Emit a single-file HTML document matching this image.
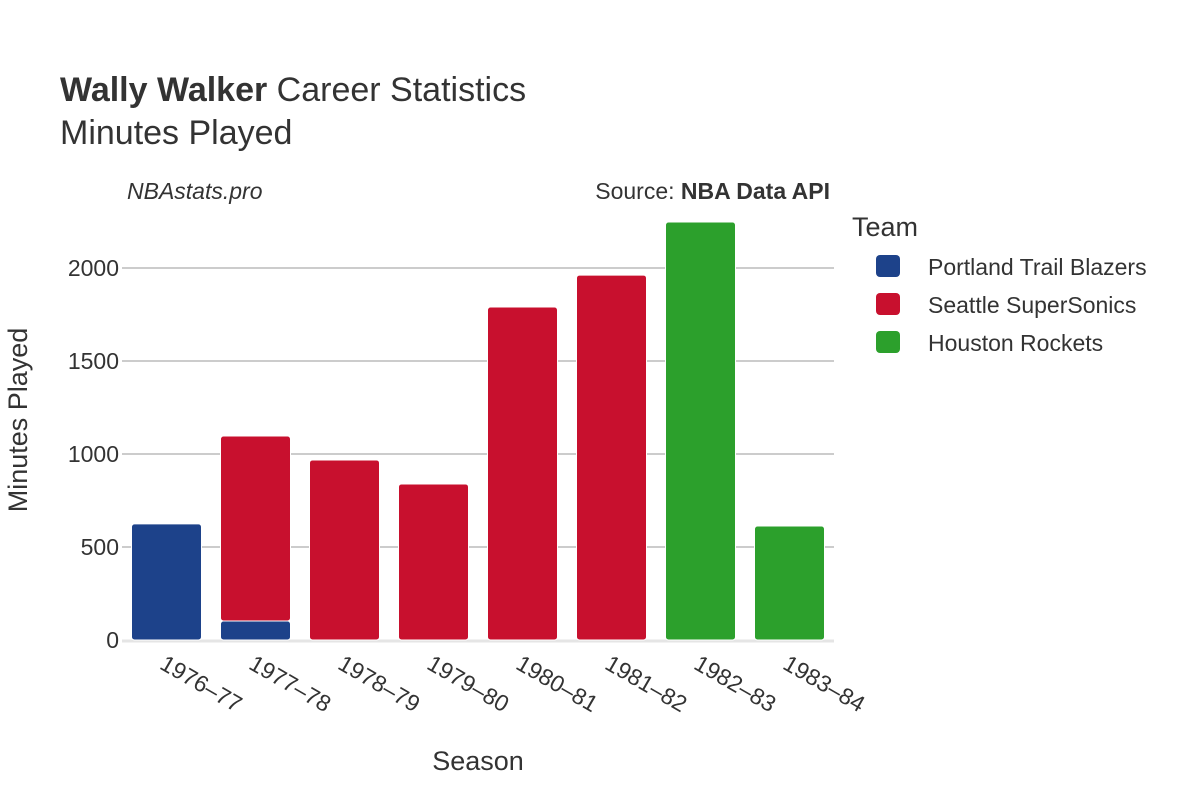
<!DOCTYPE html>
<html><head><meta charset="utf-8"><style>
body{margin:0;background:#fff;}
svg text{font-family:"Liberation Sans","DejaVu Sans",sans-serif;fill:#333;}
</style></head><body>
<svg id="chart" width="1200" height="800" xmlns="http://www.w3.org/2000/svg">
<text x="60" y="101" font-size="34"><tspan font-weight="bold">Wally Walker</tspan> Career Statistics</text>
<text x="60" y="144" font-size="34">Minutes Played</text>
<text x="127" y="199" font-size="23" font-style="italic">NBAstats.pro</text>
<text x="830" y="199" font-size="23" text-anchor="end">Source: <tspan font-weight="bold">NBA Data API</tspan></text>
<g id="grid"></g>
<g id="bars"></g>
<g id="xlabels"></g>
<text x="478" y="770" font-size="27" text-anchor="middle">Season</text>
<text transform="translate(27,420) rotate(-90)" font-size="27" text-anchor="middle">Minutes Played</text>
<text x="852" y="236" font-size="27">Team</text>
<g id="legend"></g>
</svg>
<script>
const seasons=["1976–77","1977–78","1978–79","1979–80","1980–81","1981–82","1982–83","1983–84"];
const portland=[624,102,0,0,0,0,0,0];
const seattle=[0,995,968,839,1790,1962,0,0];
const houston=[0,0,0,0,0,0,2247,613];
const yTicks=[0,500,1000,1500,2000];
const teams=["Portland Trail Blazers","Seattle SuperSonics","Houston Rockets"];
const colors=["#1d428a","#c8102e","#2ca02c"];
const NS="http://www.w3.org/2000/svg";
const x0=122,x1=834,y0=640,pxPer=372/2000;
const y=v=>y0-v*pxPer;
const band=(x1-x0)/seasons.length;
const bx=i=>x0+band*i+band/2;
function mk(tag,attrs,parent){const e=document.createElementNS(NS,tag);for(const k in attrs)e.setAttribute(k,attrs[k]);parent.appendChild(e);return e;}
const grid=document.getElementById('grid');
yTicks.forEach(t=>{
  if(t>0){const l=mk('line',{x1:x0,x2:x1,y1:y(t),y2:y(t),stroke:'#999','stroke-width':1},grid);
  
  }
  const tx=mk('text',{x:x0-3,y:y(t)+8,'font-size':23,'text-anchor':'end'},grid);
  tx.textContent=t;
  
  
});
const base=mk('line',{x1:x0,x2:x1,y1:y0+1,y2:y0+1,stroke:'#e5e5e5','stroke-width':3},grid);


const bars=document.getElementById('bars');
const series=[portland,seattle,houston];
const bw=70;
seasons.forEach((s,i)=>{
  let cum=0;
  series.forEach((arr,k)=>{
    const v=arr[i]; if(!v)return;
    const top=y(cum+v),bot=y(cum);
    const r=mk('rect',{x:bx(i)-bw/2,y:top,width:bw,height:bot-top,fill:colors[k],rx:3,stroke:'#fff','stroke-width':1},bars);
    
    
    cum+=v;
  });
  const t=mk('text',{'font-size':23,transform:`translate(${bx(i)-8},${y0+28}) rotate(30)`},document.getElementById('xlabels'));
  t.textContent=s;
  
  
});
const lg=document.getElementById('legend');
teams.forEach((n,k)=>{
  const g=mk('g',{},lg);
  
  
  mk('rect',{x:876,y:255+k*38,width:24,height:22,rx:4,fill:colors[k]},g);
  const t=mk('text',{x:928,y:275+k*38,'font-size':23},g);
  t.textContent=n;
});
</script>
</body></html>
